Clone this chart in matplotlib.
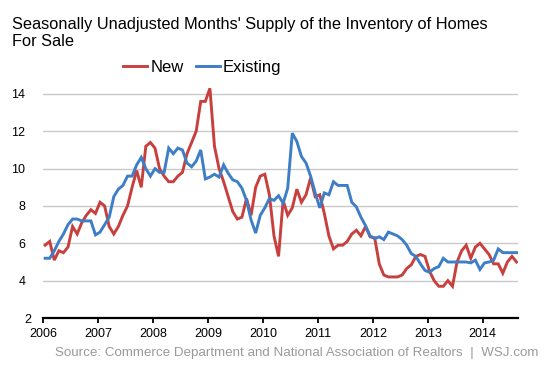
import numpy as np
import matplotlib
matplotlib.use("Agg")
import matplotlib.pyplot as plt
from matplotlib.transforms import ScaledTranslation

plt.rcParams["font.family"] = ["Liberation Sans", "DejaVu Sans"]

# -- Donnees (mensuelles, janv. 2006 -> aout 2014) ------------------------------
start_year = 2006
new_supply = [
    5.9, 6.1, 5.1, 5.6, 5.5, 5.8, 6.9, 6.5, 7.1, 7.5, 7.8, 7.6,
    8.2, 8.0, 6.9, 6.5, 6.9, 7.5, 8.0, 9.0, 9.9, 9.0, 11.2, 11.4,
    11.1, 10.0, 9.6, 9.3, 9.3, 9.6, 9.8, 10.8, 11.4, 12.0, 13.6, 13.6,
    14.3, 11.2, 10.0, 9.3, 8.5, 7.7, 7.3, 7.4, 8.4, 7.5, 9.0, 9.6,
    9.7, 8.6, 6.4, 5.3, 8.3, 7.5, 7.9, 8.9, 8.2, 8.6, 9.5, 8.5,
    8.6, 7.6, 6.4, 5.7, 5.9, 5.9, 6.1, 6.5, 6.7, 6.4, 6.9, 6.35,
    6.3, 4.9, 4.3, 4.2, 4.2, 4.2, 4.3, 4.65, 4.85, 5.3, 5.4, 5.3,
    4.5, 4.0, 3.7, 3.7, 4.0, 3.7, 5.0, 5.6, 5.9, 5.2, 5.8, 6.0,
    5.7, 5.4, 4.9, 4.9, 4.4, 5.0, 5.3, 5.0,
]
existing_supply = [
    5.2, 5.2, 5.6, 6.1, 6.5, 7.0, 7.3, 7.3, 7.2, 7.2, 7.2, 6.45,
    6.6, 7.0, 7.4, 8.5, 8.9, 9.1, 9.6, 9.6, 10.2, 10.6, 10.0, 9.6,
    10.0, 9.8, 9.8, 11.1, 10.8, 11.1, 11.0, 10.3, 10.1, 10.4, 11.0, 9.45,
    9.55, 9.7, 9.55, 10.2, 9.75, 9.4, 9.3, 8.95, 8.3, 7.25, 6.55, 7.5,
    7.9, 8.4, 8.3, 8.55, 8.15, 8.95, 11.9, 11.45, 10.65, 10.3, 9.6, 8.7,
    7.9, 8.7, 8.6, 9.3, 9.1, 9.1, 9.1, 8.2, 7.95, 7.4, 6.95, 6.4,
    6.25, 6.35, 6.2, 6.6, 6.5, 6.4, 6.2, 5.9, 5.45, 5.3, 4.9, 4.55,
    4.45, 4.65, 4.75, 5.2, 5.0, 5.0, 5.0, 5.0, 5.0, 4.95, 5.1, 4.6,
    4.95, 5.0, 5.1, 5.7, 5.5, 5.5, 5.5, 5.5,
]
year_ticks = list(range(2006, 2015))
y_ticks = [2, 4, 6, 8, 10, 12, 14]

RED = "#c8403e"
BLUE = "#3d7ec6"
GRID = "#c9c9c9"

# position des points : milieu (approx.) du mois
months = np.arange(len(new_supply))
x = start_year + (months + 0.4) / 12.0

fig = plt.figure(figsize=(5.53, 3.69), dpi=100)
ax = fig.add_axes([0.0783, 0.1382, 0.8584, 0.6578])

ax.plot(x, new_supply, color=RED, lw=2.1, label="New", solid_joinstyle="miter")
ax.plot(x, existing_supply, color=BLUE, lw=2.1, label="Existing", solid_joinstyle="miter")

ax.set_xlim(2006, 2014.643)
ax.set_ylim(2, 15)

# grille horizontale
for yv in y_ticks[1:]:
    ax.axhline(yv, color=GRID, lw=1.0, zorder=0)

for s in ["top", "right", "left"]:
    ax.spines[s].set_visible(False)
ax.spines["bottom"].set_linewidth(1.6)
ax.spines["bottom"].set_color("black")

ax.set_xticks(year_ticks)
ax.set_xticklabels([str(yr) for yr in year_ticks], fontsize=9)
ax.tick_params(axis="x", direction="out", length=3.5, width=1.3, pad=3.5, colors="black")

ax.set_yticks(y_ticks)
ax.set_yticklabels([str(v) for v in y_ticks], fontsize=9)
ax.tick_params(axis="y", length=0, pad=13)
# le "2" est colle a l'axe dans l'original
lbl = ax.get_yticklabels()[0]
lbl.set_transform(lbl.get_transform() + ScaledTranslation(6 / 100, 0, fig.dpi_scale_trans))

fig.text(0.022, 0.953, "Seasonally Unadjusted Months' Supply of the Inventory of Homes\nFor Sale",
         fontsize=11.75, ha="left", va="top", linespacing=1.1)

leg = fig.legend(loc="center left", bbox_to_anchor=(0.2224, 0.818), ncol=2, frameon=False,
                 fontsize=12, handlelength=1.44, handletextpad=0.2, columnspacing=0.72,
                 borderaxespad=0, borderpad=0)

fig.text(0.973, 0.043, "Source: Commerce Department and National Association of Realtors  |  WSJ.com",
         fontsize=9.65, color="#9a9a9a", ha="right", va="center")

fig.savefig("out.png", dpi=100)
